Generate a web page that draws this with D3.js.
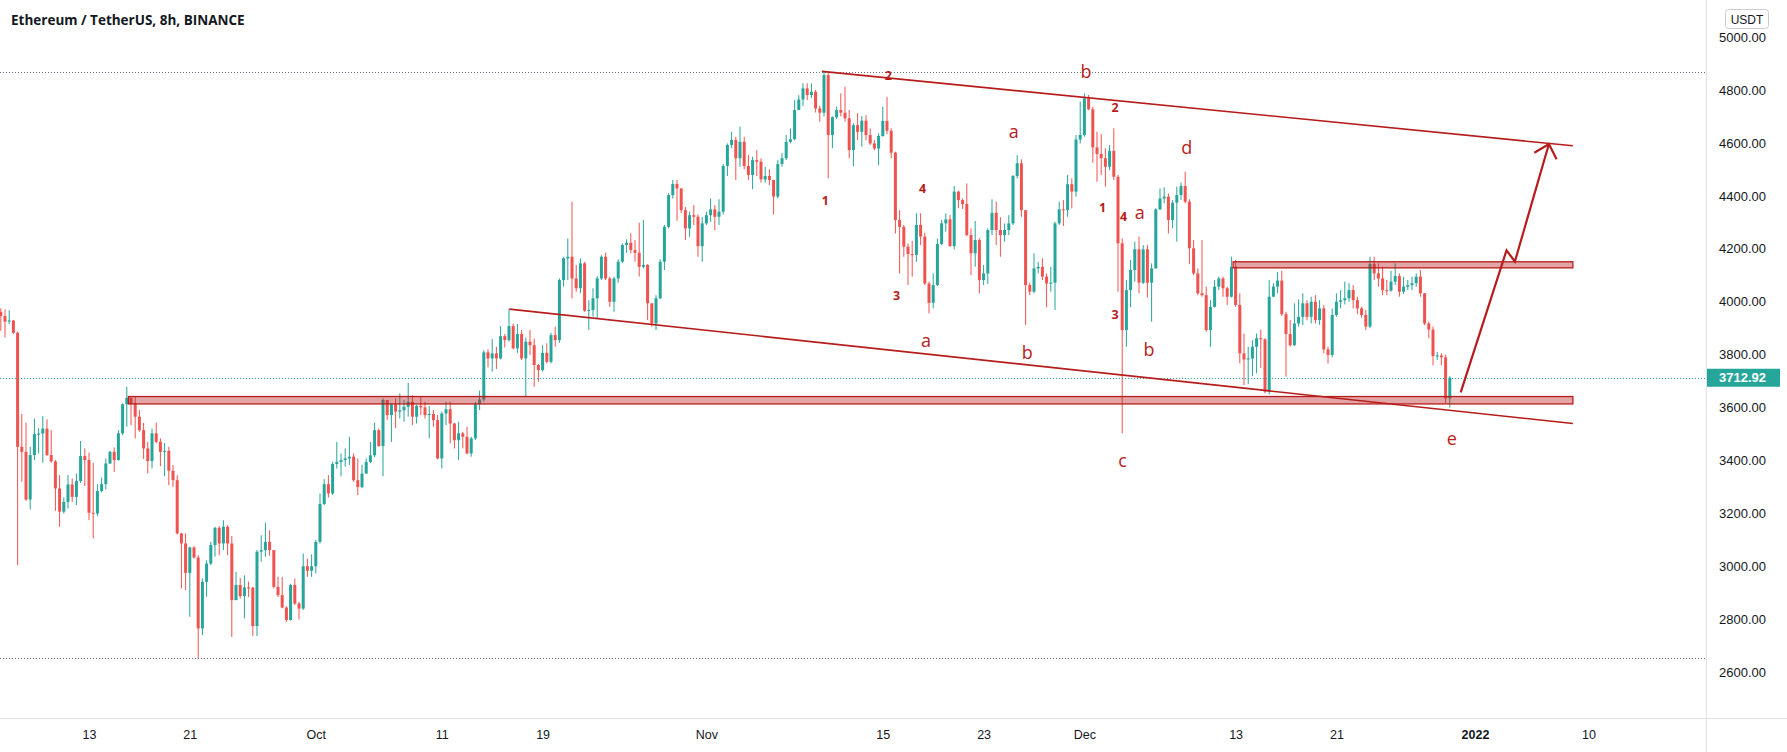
<!DOCTYPE html>
<html>
<head>
<meta charset="utf-8">
<script src="https://cdn.jsdelivr.net/npm/d3@7"></script>
<style>
  body { margin: 0; background: #fff; }
  text { font-family: "Liberation Sans", Arial, sans-serif; }
</style>
</head>
<body>
<div id="my_dataviz"></div>
<script>
// 8h candles, first bar opens 2021-09-06 00:00 UTC
const firstBar = Date.UTC(2021, 8, 6);
const barMs = 8 * 3600 * 1000;
const firstOpen = 3962;

const closes = [
  3946,3925,3929,3883,3452,3433,3253,3421,3500,3502,
  3521,3421,3397,3295,3207,3244,3310,3263,3323,3417,
  3402,3203,3200,3285,3311,3389,3433,3402,3503,3613,
  3637,3616,3566,3515,3446,3398,3503,3471,3433,3437,
  3362,3326,3125,3087,2976,3072,3034,2766,2942,3011,
  3081,3146,3087,3150,3087,2873,2930,2888,2921,2920,
  2775,3056,3062,3093,3062,2923,2892,2845,2798,2930,
  2860,2841,3001,2984,3001,3093,3236,3311,3276,3387,
  3395,3402,3408,3415,3326,3300,3351,3395,3420,3515,
  3455,3629,3572,3613,3585,3590,3603,3622,3566,3607,
  3601,3572,3576,3553,3408,3578,3594,3540,3477,3503,
  3490,3427,3484,3613,3631,3809,3786,3805,3786,3870,
  3855,3908,3824,3878,3786,3849,3836,3761,3742,3807,
  3773,3874,3855,4082,4164,4170,4088,4051,4145,3966,
  3969,4013,4088,4170,4088,4000,4088,4151,4214,4223,
  4195,4185,4132,4139,3994,3918,4013,4151,4283,4403,
  4445,4428,4346,4277,4327,4321,4210,4296,4327,4349,
  4321,4340,4513,4592,4611,4542,4604,4513,4479,4535,
  4529,4462,4475,4460,4397,4520,4542,4604,4614,4724,
  4764,4806,4781,4793,4730,4714,4856,4630,4697,4724,
  4714,4693,4573,4667,4642,4684,4630,4598,4579,4626,
  4683,4646,4563,4309,4283,4208,4180,4177,4290,4246,
  4069,3996,4063,4218,4296,4311,4210,4416,4384,4369,
  4252,4183,4233,4082,4107,4271,4336,4271,4252,4271,
  4296,4475,4523,4346,4063,4038,4126,4132,4095,4069,
  4072,4296,4349,4346,4444,4416,4613,4630,4768,4727,
  4583,4558,4542,4510,4570,4472,4221,3893,4044,4120,
  4198,4072,4198,4072,4126,4349,4390,4397,4309,4374,
  4403,4437,4378,4202,4107,4032,4025,3893,3981,4057,
  4088,4051,4019,4132,3988,3805,3782,3786,3830,3862,
  3858,3660,4019,4057,4080,3953,3878,3836,3918,3943,
  3994,3943,4000,3931,3975,3820,3799,3950,4000,4006,
  4013,4044,4006,3975,3950,3906,4142,4107,4088,4044,
  4042,4076,4097,4038,4057,4063,4070,4095,4032,3918,
  3895,3795,3797,3790,3635,3712.92
];

const highs = [
  3975,3971,3968,3931,3887,3576,3543,3452,3559,3522,
  3568,3556,3515,3402,3345,3261,3345,3333,3351,3474,
  3446,3430,3392,3311,3336,3408,3437,3450,3515,3616,
  3679,3640,3641,3591,3543,3471,3521,3543,3484,3467,
  3452,3383,3345,3127,3125,3075,3077,3043,2955,3024,
  3093,3150,3153,3175,3156,3115,2980,2957,2967,2943,
  2923,3062,3118,3165,3137,3062,2961,2961,2850,2935,
  2955,2866,3049,3030,3046,3100,3276,3330,3345,3396,
  3471,3427,3446,3490,3427,3408,3384,3408,3470,3543,
  3521,3635,3625,3616,3635,3654,3629,3694,3647,3610,
  3641,3622,3606,3591,3572,3585,3622,3622,3543,3547,
  3509,3528,3490,3622,3664,3817,3820,3859,3830,3908,
  3878,3975,3918,3916,3893,3865,3893,3861,3765,3836,
  3843,3883,3906,4088,4170,4239,4378,4139,4164,4151,
  4006,4051,4097,4176,4185,4095,4095,4160,4220,4236,
  4258,4233,4299,4309,4142,3994,4025,4160,4290,4410,
  4460,4460,4428,4358,4340,4365,4330,4320,4340,4390,
  4365,4387,4520,4598,4642,4623,4661,4623,4555,4548,
  4573,4542,4510,4500,4460,4535,4561,4630,4655,4762,
  4780,4825,4825,4825,4800,4740,4868,4865,4700,4737,
  4787,4812,4724,4674,4712,4701,4705,4655,4611,4636,
  4737,4774,4655,4567,4346,4290,4220,4230,4334,4334,
  4261,4076,4107,4239,4309,4334,4328,4437,4419,4390,
  4447,4277,4305,4240,4139,4277,4387,4378,4319,4296,
  4327,4479,4554,4538,4340,4072,4183,4151,4164,4107,
  4132,4302,4378,4384,4479,4466,4630,4756,4787,4781,
  4737,4642,4633,4579,4592,4655,4479,4239,4082,4158,
  4227,4246,4214,4214,4145,4353,4428,4432,4409,4384,
  4435,4450,4491,4387,4233,4126,4233,4057,4006,4082,
  4095,4095,4057,4170,4158,4032,3880,3830,3855,3880,
  3895,3862,4082,4070,4113,4117,3962,3931,3994,4009,
  4032,4006,4019,4025,4006,3987,3830,3975,4032,4044,
  4076,4070,4063,4019,3981,3969,4170,4170,4145,4132,
  4082,4117,4145,4107,4095,4082,4095,4107,4120,4032,
  3925,3906,3810,3805,3800,3720
];

const lows = [
  3890,3865,3916,3878,3005,3320,3248,3215,3402,3427,
  3392,3417,3392,3210,3150,3200,3219,3243,3232,3316,
  3304,3175,3106,3190,3280,3291,3387,3357,3400,3496,
  3528,3534,3484,3509,3406,3352,3370,3465,3379,3341,
  3307,3301,3121,2917,2911,2810,3030,2653,2741,2886,
  3005,3037,3043,3062,3043,2734,2873,2879,2804,2885,
  2737,2737,3018,3037,3040,2917,2885,2842,2791,2796,
  2855,2800,2836,2961,2961,2974,3087,3232,3261,3270,
  3370,3341,3377,3383,3320,3270,3296,3365,3391,3412,
  3452,3341,3553,3471,3522,3559,3547,3566,3534,3540,
  3572,3559,3484,3528,3405,3370,3534,3465,3446,3402,
  3446,3424,3415,3478,3591,3622,3752,3736,3746,3782,
  3828,3849,3820,3807,3780,3641,3799,3679,3698,3736,
  3767,3767,3830,3845,4057,4082,4013,4038,4032,3962,
  3893,3944,3937,4082,4082,3981,3962,4072,4147,4185,
  4183,4151,4095,4126,3931,3906,3893,4010,4120,4277,
  4390,4306,4335,4233,4245,4290,4170,4151,4290,4302,
  4270,4290,4330,4475,4580,4460,4510,4500,4460,4425,
  4475,4450,4450,4440,4330,4390,4510,4535,4598,4610,
  4724,4740,4762,4770,4715,4680,4700,4466,4580,4690,
  4700,4680,4542,4513,4611,4586,4610,4592,4573,4516,
  4623,4633,4542,4258,4107,4170,4063,4095,4151,4214,
  4063,3956,3975,4059,4214,4265,4208,4198,4353,4350,
  4248,4101,4132,4032,4063,4067,4252,4214,4170,4227,
  4252,4290,4466,4321,3912,4025,4032,4107,4082,3979,
  4038,3969,4290,4286,4321,4353,4397,4598,4623,4724,
  4525,4453,4479,4435,4497,4460,4038,3503,3830,3979,
  4076,4032,4067,4016,3925,4126,4346,4372,4258,4277,
  4227,4385,4372,4142,4101,4025,4019,3887,3830,3978,
  4044,4019,3988,4016,3981,3767,3685,3689,3719,3730,
  3750,3654,3650,4019,4032,3946,3717,3830,3833,3906,
  3912,3930,3918,3918,3912,3805,3767,3790,3943,3975,
  3990,4000,3975,3953,3940,3893,3900,4082,4057,4025,
  4025,4038,4063,4019,4030,4044,4044,4057,4019,3912,
  3862,3760,3780,3760,3616,3600
];

// time axis labels
const tickDates = [
  Date.UTC(2021,8,13), Date.UTC(2021,8,21), Date.UTC(2021,9,1), Date.UTC(2021,9,11),
  Date.UTC(2021,9,19), Date.UTC(2021,10,1), Date.UTC(2021,10,15), Date.UTC(2021,10,23),
  Date.UTC(2021,11,1), Date.UTC(2021,11,13), Date.UTC(2021,11,21), Date.UTC(2022,0,1),
  Date.UTC(2022,0,10)
];
const tickLabels = ["13","21","Oct","11","19","Nov","15","23","Dec","13","21","2022","10"];
const priceTicks = d3.range(2600, 5001, 200);

// drawings, anchored as [bar index, price]
const dottedLevels = [4868, 2653];
const upperChannel = [[195.5, 4870], [374.3, 4589]];
const lowerChannel = [[121.1, 3972], [374.3, 3540]];
const supportZone = {from: 30.4, to: 374.3, low: 3614, high: 3642};
const resistZone = {from: 293.4, to: 374.3, low: 4128, high: 4151};
const arrowPath = [[347.6, 3658], [358.5, 4194], [360.5, 4152], [368.6, 4596]];
const waveLabels = [
  [211.3, 4853, "2"], [258.4, 4873, "b"], [265.3, 4734, "2"], [241.2, 4646, "a"],
  [282.4, 4583, "d"], [196.3, 4384, "1"], [219.5, 4428, "4"], [262.3, 4355, "1"],
  [267.3, 4321, "4"], [271.2, 4340, "a"], [213.3, 4025, "3"], [265.3, 3953, "3"],
  [220.3, 3855, "a"], [244.4, 3811, "b"], [273.4, 3820, "b"], [267.1, 3402, "c"],
  [345.5, 3484, "e"]
];
const lastPrice = 3712.92;

// dimensions
const width = 1787, height = 752;
const plotRight = 1706, plotBottom = 718;
const upColor = "#26a69a", downColor = "#ef5350", drawColor = "#b71c1c";

const barDate = b => new Date(firstBar + b * barMs);

const svg = d3.select("#my_dataviz")
  .append("svg")
    .attr("width", width)
    .attr("height", height)
    .style("display", "block");

svg.append("rect").attr("width", width).attr("height", height).attr("fill", "#fff");

const x = d3.scaleUtc()
  .domain([new Date(firstBar), new Date(Date.UTC(2022, 0, 10))])
  .range([0.8, 0.8 + 126 * 12.6]);
const y = d3.scaleLinear()
  .domain([2600, 5000])
  .range([672.4, 37]);

svg.append("clipPath").attr("id", "plotclip")
  .append("rect").attr("width", plotRight).attr("height", plotBottom);

const plot = svg.append("g").attr("clip-path", "url(#plotclip)");

// candles
const bars = closes.map(function(c, i) {
  const o = i ? closes[i - 1] : firstOpen;
  return {date: barDate(i), open: o, close: c,
          high: Math.max(highs[i], o, c), low: Math.min(lows[i], o, c)};
});

const candle = plot.append("g").selectAll("g")
  .data(bars)
  .join("g")
    .attr("fill", d => d.close >= d.open ? upColor : downColor);
candle.append("rect")
  .attr("x", d => x(d.date) - 0.5)
  .attr("width", 1)
  .attr("y", d => y(d.high))
  .attr("height", d => Math.max(1, y(d.low) - y(d.high)));
candle.append("rect")
  .attr("x", d => x(d.date) - 1.5)
  .attr("width", 3)
  .attr("y", d => y(Math.max(d.open, d.close)))
  .attr("height", d => Math.max(1, Math.abs(y(d.open) - y(d.close))));

// dotted horizontal levels (grey) and last price line (teal)
plot.selectAll(".level")
  .data(dottedLevels)
  .join("line")
    .attr("x1", 0).attr("x2", plotRight)
    .attr("y1", d => Math.round(y(d)) + 0.5).attr("y2", d => Math.round(y(d)) + 0.5)
    .attr("stroke", "#6a6d78")
    .attr("stroke-width", 1)
    .attr("stroke-dasharray", "1,2");
plot.append("line")
  .attr("x1", 0).attr("x2", plotRight)
  .attr("y1", Math.round(y(lastPrice)) + 0.5).attr("y2", Math.round(y(lastPrice)) + 0.5)
  .attr("stroke", upColor)
  .attr("stroke-width", 1)
  .attr("stroke-dasharray", "1,2");

// zones
plot.selectAll(".zone")
  .data([supportZone, resistZone])
  .join("rect")
    .attr("x", d => x(barDate(d.from)))
    .attr("width", d => x(barDate(d.to)) - x(barDate(d.from)))
    .attr("y", d => y(d.high))
    .attr("height", d => y(d.low) - y(d.high))
    .attr("fill", "rgba(183,28,28,0.4)")
    .attr("stroke", drawColor)
    .attr("stroke-width", 1.3);

// channel lines
const line = d3.line().x(d => x(barDate(d[0]))).y(d => y(d[1]));
plot.selectAll(".channel")
  .data([upperChannel, lowerChannel])
  .join("path")
    .attr("d", line)
    .attr("fill", "none")
    .attr("stroke", drawColor)
    .attr("stroke-width", 1.6);

// projected path with arrow head
plot.append("path")
  .attr("d", line(arrowPath))
  .attr("fill", "none")
  .attr("stroke", drawColor)
  .attr("stroke-width", 2.2)
  .attr("stroke-linejoin", "miter");
const pts = arrowPath.slice(-2).map(d => [x(barDate(d[0])), y(d[1])]);
const ang = Math.atan2(pts[1][1] - pts[0][1], pts[1][0] - pts[0][0]);
const headLen = 17, spread = 0.75;
const tip = pts[1];
plot.append("path")
  .attr("d", d3.line()([
    [tip[0] - headLen * Math.cos(ang - spread), tip[1] - headLen * Math.sin(ang - spread)],
    tip,
    [tip[0] - headLen * Math.cos(ang + spread), tip[1] - headLen * Math.sin(ang + spread)]
  ]))
  .attr("fill", "none")
  .attr("stroke", drawColor)
  .attr("stroke-width", 2.2);

// wave labels
plot.selectAll(".wave")
  .data(waveLabels)
  .join("text")
    .attr("x", d => x(barDate(d[0])))
    .attr("y", d => y(d[1]))
    .attr("text-anchor", "middle")
    .attr("dominant-baseline", "central")
    .attr("fill", drawColor)
    .style("font-family", "'Open Sans', sans-serif")
    .style("font-size", d => /\d/.test(d[2]) ? "12.5px" : "18px")
    .style("font-weight", d => /\d/.test(d[2]) ? "700" : "400")
    .text(d => d[2]);

// frame lines
svg.append("line")
  .attr("x1", plotRight + 0.5).attr("x2", plotRight + 0.5)
  .attr("y1", 0).attr("y2", height)
  .attr("stroke", "#e0e3eb");
svg.append("line")
  .attr("x1", 0).attr("x2", width)
  .attr("y1", plotBottom + 0.5).attr("y2", plotBottom + 0.5)
  .attr("stroke", "#e0e3eb");

// price axis
const yAxis = svg.append("g")
  .attr("transform", `translate(${plotRight},0)`)
  .call(d3.axisRight(y).tickValues(priceTicks).tickFormat(d3.format(".2f")).tickSize(0).tickPadding(13));
yAxis.select(".domain").remove();
yAxis.selectAll("text")
  .attr("fill", "#131722")
  .style("font-size", "13px");

// currency badge
svg.append("rect")
  .attr("x", 1725.5).attr("y", 9.5).attr("width", 43).attr("height", 19).attr("rx", 3)
  .attr("fill", "#fff").attr("stroke", "#c9ccd3");
svg.append("text")
  .attr("x", 1747).attr("y", 23.5)
  .attr("text-anchor", "middle")
  .attr("fill", "#131722")
  .style("font-size", "12px")
  .text("USDT");

// last price tag
svg.append("rect")
  .attr("x", plotRight + 1).attr("y", y(lastPrice) - 9).attr("width", 73).attr("height", 18)
  .attr("fill", upColor);
svg.append("text")
  .attr("x", plotRight + 13).attr("y", y(lastPrice))
  .attr("dominant-baseline", "central")
  .attr("fill", "#fff")
  .style("font-size", "13px")
  .style("font-weight", "700")
  .text(d3.format(".2f")(lastPrice));

// time axis
const xAxis = svg.append("g")
  .attr("transform", `translate(0,${plotBottom})`)
  .call(d3.axisBottom(x)
    .tickValues(tickDates.map(d => new Date(d)))
    .tickFormat((d, i) => tickLabels[i])
    .tickSize(0).tickPadding(12));
xAxis.select(".domain").remove();
xAxis.selectAll("text")
  .attr("fill", "#131722")
  .style("font-size", "12.5px")
  .style("font-weight", (d, i) => tickLabels[i] === "2022" ? "700" : "400");

// title
svg.append("text")
  .attr("x", 11).attr("y", 25)
  .attr("fill", "#131722")
  .style("font-family", "'Open Sans', sans-serif")
  .style("font-size", "13.5px")
  .style("font-weight", "700")
  .text("Ethereum / TetherUS, 8h, BINANCE");
</script>
</body>
</html>
